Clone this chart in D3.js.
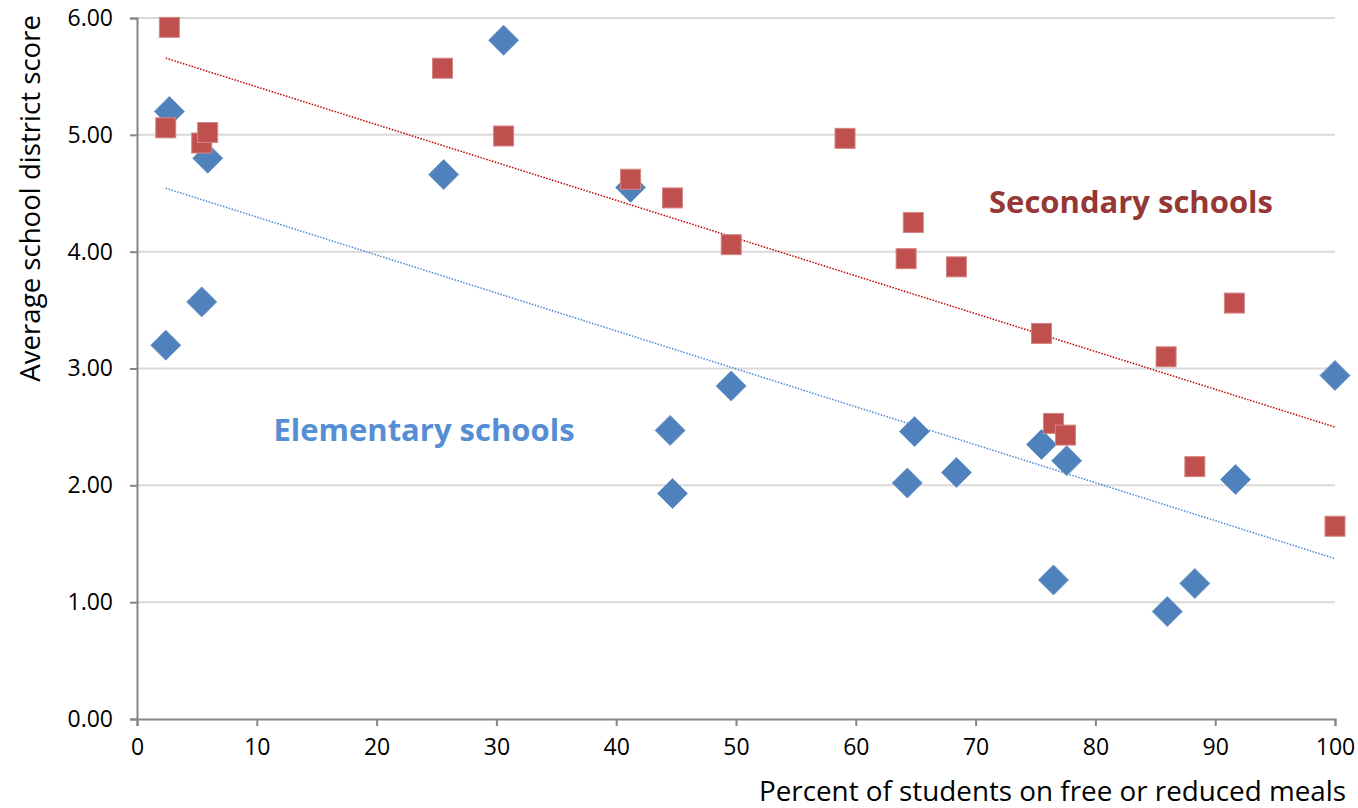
<!DOCTYPE html>
<html>
<head>
<meta charset="utf-8">
<script src="https://cdn.jsdelivr.net/npm/d3@7"></script>
<style>
  body { margin: 0; background: #fff; }
  svg { display: block; font-family: "Open Sans", Lato, sans-serif; }
</style>
</head>
<body>
<svg id="chart"></svg>
<script>
// values
const elemX = [2.7, 5.9, 2.4, 5.4, 25.6, 30.6, 41.2, 44.5, 44.7, 49.6, 64.9, 64.3, 68.4, 75.5, 77.6, 76.5, 86.0, 88.3, 91.7, 100]
const elemY = [5.20, 4.80, 3.20, 3.57, 4.66, 5.81, 4.55, 2.47, 1.93, 2.85, 2.46, 2.02, 2.11, 2.35, 2.21, 1.19, 0.92, 1.16, 2.05, 2.94]
const secX = [2.7, 2.4, 5.4, 5.9, 25.5, 30.6, 41.2, 44.7, 49.6, 59.1, 64.8, 64.2, 68.4, 75.5, 76.5, 77.5, 85.9, 88.3, 91.6, 100]
const secY = [5.92, 5.06, 4.93, 5.02, 5.57, 4.99, 4.62, 4.46, 4.06, 4.97, 4.25, 3.94, 3.87, 3.30, 2.53, 2.43, 3.10, 2.16, 3.56, 1.65]
const xTicks = [0, 10, 20, 30, 40, 50, 60, 70, 80, 90, 100]
const yTicks = [0, 1, 2, 3, 4, 5, 6]

const width = 1358
const height = 808
const margin = { top: 18, right: 23, bottom: 89, left: 137 }

const svg = d3.select("#chart").attr("width", width).attr("height", height)

const x = d3.scaleLinear().domain([0, 100]).range([margin.left, width - margin.right])
const y = d3.scaleLinear().domain([0, 6]).range([height - margin.bottom, margin.top])

// gridlines
svg.append("g")
  .selectAll("line")
  .data(yTicks.slice(1))
  .enter()
  .append("line")
  .attr("x1", x(0))
  .attr("x2", x(100))
  .attr("y1", (d) => y(d))
  .attr("y2", (d) => y(d))
  .attr("stroke", "#d9d9d9")
  .attr("stroke-width", 2)

// axes
const yAxis = svg.append("g")
  .attr("transform", `translate(${x(0)},0)`)
  .call(d3.axisLeft(y).tickValues(yTicks).tickSize(7).tickPadding(17).tickFormat(d3.format(".2f")))
const xAxis = svg.append("g")
  .attr("transform", `translate(0,${y(0)})`)
  .call(d3.axisBottom(x).tickValues(xTicks).tickSize(7).tickPadding(11))

;[yAxis, xAxis].forEach((g) => {
  g.select(".domain").attr("stroke", "#868686").attr("stroke-width", 2)
  g.selectAll(".tick line").attr("stroke", "#868686").attr("stroke-width", 2)
  g.selectAll(".tick text").attr("fill", "#000").style("font-size", "23px").style("font-family", "'Open Sans', sans-serif")
})
xAxis.selectAll(".tick text").attr("dy", "0.8em")

// linear trendlines (least squares on each series)
function fit(xs, ys) {
  const mx = d3.mean(xs), my = d3.mean(ys)
  const b = d3.sum(xs, (v, i) => (v - mx) * (ys[i] - my)) / d3.sum(xs, (v) => (v - mx) * (v - mx))
  return { a: my - b * mx, b: b, x0: d3.min(xs), x1: d3.max(xs) }
}
const trends = [
  { f: fit(secX, secY), color: "#c00000" },
  { f: fit(elemX, elemY), color: "#4a86d8" }
]
svg.append("g")
  .selectAll("line")
  .data(trends)
  .enter()
  .append("line")
  .attr("x1", (d) => x(d.f.x0))
  .attr("x2", (d) => x(d.f.x1))
  .attr("y1", (d) => y(d.f.a + d.f.b * d.f.x0))
  .attr("y2", (d) => y(d.f.a + d.f.b * d.f.x1))
  .attr("stroke", (d) => d.color)
  .attr("stroke-width", 1.5)
  .attr("stroke-dasharray", "1.5,1.5")

// elementary: diamonds
const elem = elemX.map((v, i) => ({ x: v, y: elemY[i] }))
svg.append("g")
  .selectAll("path")
  .data(elem)
  .enter()
  .append("path")
  .attr("d", "M0,-15L15,0L0,15L-15,0Z")
  .attr("transform", (d) => `translate(${x(d.x)},${y(d.y)})`)
  .attr("fill", "#4f81bd")
  .attr("stroke", "#6f97c9")
  .attr("stroke-width", 1)

// secondary: squares
const sec = secX.map((v, i) => ({ x: v, y: secY[i] }))
svg.append("g")
  .selectAll("rect")
  .data(sec)
  .enter()
  .append("rect")
  .attr("x", (d) => x(d.x) - 10)
  .attr("y", (d) => y(d.y) - 10)
  .attr("width", 20)
  .attr("height", 20)
  .attr("fill", "#c0504d")
  .attr("stroke", "#d38684")
  .attr("stroke-width", 1)

// labels
svg.append("text")
  .attr("x", 1131)
  .attr("y", 213)
  .attr("text-anchor", "middle")
  .attr("fill", "#953735")
  .style("font-size", "31px")
  .style("font-weight", "bold")
  .text("Secondary schools")

svg.append("text")
  .attr("x", 424)
  .attr("y", 441)
  .attr("text-anchor", "middle")
  .attr("fill", "#558ed5")
  .style("font-size", "31px")
  .style("font-weight", "bold")
  .text("Elementary schools")

svg.append("text")
  .attr("x", 1346)
  .attr("y", 801)
  .attr("text-anchor", "end")
  .attr("fill", "#000")
  .style("font-size", "27.8px")
  .text("Percent of students on free or reduced meals")

svg.append("text")
  .attr("transform", "translate(40,15) rotate(-90)")
  .attr("text-anchor", "end")
  .attr("fill", "#000")
  .style("font-size", "27.6px")
  .text("Average school district score")
</script>
</body>
</html>
